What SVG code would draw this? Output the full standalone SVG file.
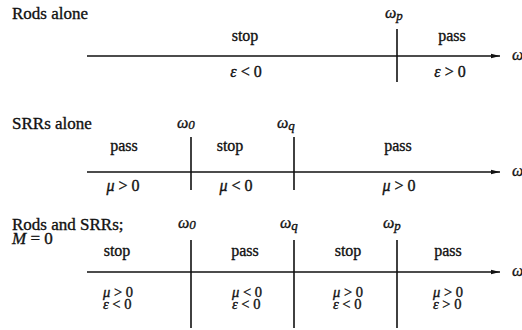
<svg xmlns="http://www.w3.org/2000/svg" width="522" height="330" viewBox="0 0 522 330">
<defs>
<style>
text{font-family:"Liberation Serif","Times New Roman",serif;font-size:16px;fill:#111;stroke:#111;stroke-width:0.35}
.h{font-size:17px}
.s{font-size:14.5px}
.c{text-anchor:middle}
.i{font-style:italic}
.ax{stroke:#111;stroke-width:1.6;fill:none}
.v{stroke:#111;stroke-width:1.6}
</style>
<marker id="ah" markerWidth="10" markerHeight="6" refX="9" refY="3" orient="auto" markerUnits="userSpaceOnUse">
<path d="M0,0.8 L9,3 L0,5.2 Z" fill="#111"/>
</marker>
</defs>
<g id="row1">
<text x="12" y="19" class="h">Rods alone</text>
<text x="385" y="18" class="i">ω<tspan dy="2" font-size="13">p</tspan></text>
<text x="245" y="41" class="c">stop</text>
<text x="452" y="41" class="c">pass</text>
<text x="246" y="77" class="c"><tspan class="i">ε</tspan> &lt; 0</text>
<text x="450" y="77" class="c"><tspan class="i">ε</tspan> &gt; 0</text>
<text x="512" y="60" class="i">ω</text>
</g>
<g id="row2">
<text x="12" y="129" class="h">SRRs alone</text>
<text x="177" y="128" class="i">ω<tspan dy="1" font-size="13">0</tspan></text>
<text x="277" y="128" class="i">ω<tspan dy="2" font-size="13">q</tspan></text>
<text x="124" y="151" class="c">pass</text>
<text x="230" y="151" class="c">stop</text>
<text x="398" y="151" class="c">pass</text>
<text x="123" y="191" class="c"><tspan class="i">μ</tspan> &gt; 0</text>
<text x="236" y="191" class="c"><tspan class="i">μ</tspan> &lt; 0</text>
<text x="399" y="191" class="c"><tspan class="i">μ</tspan> &gt; 0</text>
<text x="512" y="176" class="i">ω</text>
</g>
<g id="row3">
<text x="12" y="230" class="h">Rods and SRRs;</text>
<text x="12" y="244" class="h"><tspan class="i">M</tspan> = 0</text>
<text x="178" y="228" class="i">ω<tspan dy="1" font-size="13">0</tspan></text>
<text x="280" y="228" class="i">ω<tspan dy="2" font-size="13">q</tspan></text>
<text x="383" y="228" class="i">ω<tspan dy="2" font-size="13">p</tspan></text>
<text x="117" y="256" class="c">stop</text>
<text x="245" y="256" class="c">pass</text>
<text x="348" y="256" class="c">stop</text>
<text x="448" y="256" class="c">pass</text>
<text x="103" y="297" class="s"><tspan class="i">μ</tspan> &gt; 0</text>
<text x="103" y="309" class="s"><tspan class="i">ε</tspan> &lt; 0</text>
<text x="232" y="297" class="s"><tspan class="i">μ</tspan> &lt; 0</text>
<text x="232" y="309" class="s"><tspan class="i">ε</tspan> &lt; 0</text>
<text x="333" y="297" class="s"><tspan class="i">μ</tspan> &gt; 0</text>
<text x="333" y="309" class="s"><tspan class="i">ε</tspan> &lt; 0</text>
<text x="433" y="297" class="s"><tspan class="i">μ</tspan> &gt; 0</text>
<text x="433" y="309" class="s"><tspan class="i">ε</tspan> &gt; 0</text>
<text x="512" y="276" class="i">ω</text>
</g>
<g id="connectors">
<line class="ax" x1="87" y1="56" x2="500" y2="56" marker-end="url(#ah)"/>
<line class="v" x1="397" y1="29" x2="397" y2="82"/>
<line class="ax" x1="87" y1="172" x2="500" y2="172" marker-end="url(#ah)"/>
<line class="v" x1="191" y1="137" x2="191" y2="190"/>
<line class="v" x1="294" y1="137" x2="294" y2="190"/>
<line class="ax" x1="87" y1="272" x2="500" y2="272" marker-end="url(#ah)"/>
<line class="v" x1="191" y1="240" x2="191" y2="328"/>
<line class="v" x1="294" y1="240" x2="294" y2="328"/>
<line class="v" x1="397" y1="240" x2="397" y2="328"/>
</g>
</svg>
